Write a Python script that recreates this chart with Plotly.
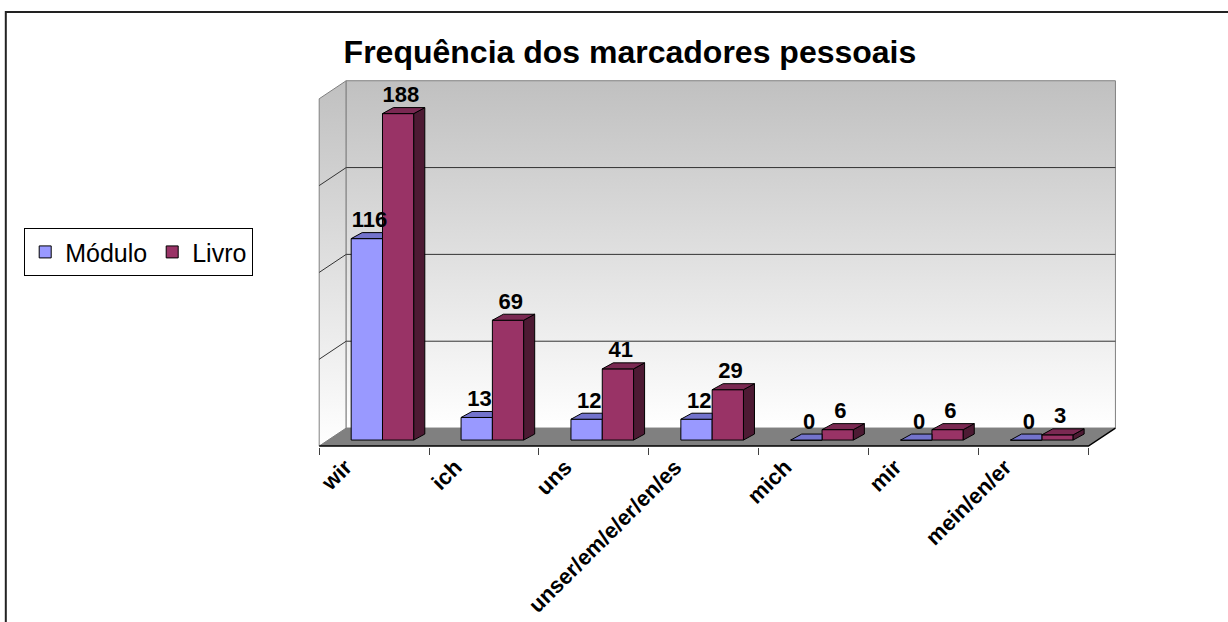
import plotly.graph_objects as go

# ---------------- data ----------------
categories = ["wir", "ich", "uns", "unser/em/e/er/en/es", "mich", "mir", "mein/en/er"]
modulo = [116, 13, 12, 12, 0, 0, 0]
livro = [188, 69, 41, 29, 6, 6, 3]
series_names = ["Módulo", "Livro"]
axis_max = 200
grid_step = 50

# ---------------- styling / geometry (data units) ----------------
FONT = "Arial, Liberation Sans, sans-serif"
C_MOD, C_MOD_TOP = "#9999FF", "#7373CC"
C_LIV, C_LIV_TOP, C_LIV_SIDE = "#993366", "#7A2952", "#4D1A33"
BAR_W = 0.285
OFF_M = -0.209
OFF_L = 0.076
BAR_DX = 0.10      # 3-D extrusion of bars
BAR_DY = 3.46
WALL_DX = 0.2457   # depth of chart floor
FRONT_Y = -3.46
BACK_Y = FRONT_Y + 10.38
n = len(categories)
idx = list(range(n))
LEFT_X = -0.5
RIGHT_X = n - 0.5
XR = [-0.52, 6.76]
YR = [-4.0, 208.5]
LABEL_SHIFT = -0.26

fig = go.Figure()

# ---- walls, gridlines and floor (base subplot, underneath) ----
grad = dict(type="vertical", colorscale=[[0, "#ffffff"], [1, "#c0c0c0"]])
fig.add_trace(go.Scatter(
    x=[LEFT_X, LEFT_X + WALL_DX, LEFT_X + WALL_DX, LEFT_X, LEFT_X],
    y=[FRONT_Y, BACK_Y, BACK_Y + axis_max, FRONT_Y + axis_max, FRONT_Y],
    fill="toself", fillgradient=grad, mode="lines",
    line=dict(color="#808080", width=1), showlegend=False, hoverinfo="skip"))
fig.add_trace(go.Scatter(
    x=[LEFT_X + WALL_DX, RIGHT_X + WALL_DX, RIGHT_X + WALL_DX, LEFT_X + WALL_DX, LEFT_X + WALL_DX],
    y=[BACK_Y, BACK_Y, BACK_Y + axis_max, BACK_Y + axis_max, BACK_Y],
    fill="toself", fillgradient=grad, mode="lines",
    line=dict(color="#808080", width=1), showlegend=False, hoverinfo="skip"))
gx, gy = [], []
for v in range(grid_step, axis_max, grid_step):
    gx += [LEFT_X, LEFT_X + WALL_DX, RIGHT_X + WALL_DX, None]
    gy += [FRONT_Y + v, BACK_Y + v, BACK_Y + v, None]
fig.add_trace(go.Scatter(x=gx, y=gy, mode="lines", line=dict(color="#333333", width=1),
                         showlegend=False, hoverinfo="skip"))
fig.add_trace(go.Scatter(
    x=[LEFT_X, RIGHT_X, RIGHT_X + WALL_DX, LEFT_X + WALL_DX, LEFT_X],
    y=[FRONT_Y, FRONT_Y, BACK_Y, BACK_Y, FRONT_Y],
    fill="toself", fillcolor="#808080", mode="lines", line=dict(width=0),
    showlegend=False, hoverinfo="skip"))
fig.add_trace(go.Scatter(
    x=[LEFT_X, RIGHT_X, RIGHT_X + WALL_DX],
    y=[FRONT_Y, FRONT_Y, BACK_Y],
    mode="lines", line=dict(color="#000000", width=1.5),
    showlegend=False, hoverinfo="skip"))

# ---- bars (overlay subplot, on top of walls) ----
fig.add_trace(go.Bar(x=idx, y=modulo, width=BAR_W, offset=OFF_M, name=series_names[0],
                     marker=dict(color=C_MOD, line=dict(color="#000000", width=1)),
                     xaxis="x2", yaxis="y2", hoverinfo="skip"))
fig.add_trace(go.Bar(x=idx, y=livro, width=BAR_W, offset=OFF_L, name=series_names[1],
                     marker=dict(color=C_LIV, line=dict(color="#000000", width=1)),
                     xaxis="x2", yaxis="y2", hoverinfo="skip"))

# 3-D faces computed from the values
mtx, mty, msx, msy = [], [], [], []
for i, (m, l) in enumerate(zip(modulo, livro)):
    x0 = i + OFF_M
    x1 = x0 + BAR_W
    if l >= m:
        mtx += [x0, x1, x1, x0 + BAR_DX, x0, None]
        mty += [m, m, m + BAR_DY, m + BAR_DY, m, None]
    else:
        mtx += [x0, x1, x1 + BAR_DX, x0 + BAR_DX, x0, None]
        mty += [m, m, m + BAR_DY, m + BAR_DY, m, None]
        msx += [x1, x1, x1 + BAR_DX, x1 + BAR_DX, x1, None]
        msy += [l, m, m + BAR_DY, l + BAR_DY, l, None]
fig.add_trace(go.Scatter(x=mtx, y=mty, fill="toself", fillcolor=C_MOD_TOP, mode="lines",
                         line=dict(color="#000000", width=1), xaxis="x2", yaxis="y2",
                         showlegend=False, hoverinfo="skip"))
if msx:
    fig.add_trace(go.Scatter(x=msx, y=msy, fill="toself", fillcolor=C_MOD_TOP, mode="lines",
                             line=dict(color="#000000", width=1), xaxis="x2", yaxis="y2",
                             showlegend=False, hoverinfo="skip"))
lsx, lsy, ltx, lty = [], [], [], []
for i, l in enumerate(livro):
    x0 = i + OFF_L
    x1 = x0 + BAR_W
    lsx += [x1, x1, x1 + BAR_DX, x1 + BAR_DX, x1, None]
    lsy += [0, l, l + BAR_DY, BAR_DY, 0, None]
    ltx += [x0, x1, x1 + BAR_DX, x0 + BAR_DX, x0, None]
    lty += [l, l, l + BAR_DY, l + BAR_DY, l, None]
fig.add_trace(go.Scatter(x=lsx, y=lsy, fill="toself", fillcolor=C_LIV_SIDE, mode="lines",
                         line=dict(color="#000000", width=1), xaxis="x2", yaxis="y2",
                         showlegend=False, hoverinfo="skip"))
fig.add_trace(go.Scatter(x=ltx, y=lty, fill="toself", fillcolor=C_LIV_TOP, mode="lines",
                         line=dict(color="#000000", width=1), xaxis="x2", yaxis="y2",
                         showlegend=False, hoverinfo="skip"))

# value labels
lab_font = dict(family=FONT, size=22, color="#000000", weight="bold")
fig.add_trace(go.Scatter(x=[i + OFF_M + BAR_W / 2 + BAR_DX * 0.25 for i in idx],
                         y=[m + BAR_DY for m in modulo], text=[str(v) for v in modulo],
                         mode="text", textposition="top center", textfont=lab_font,
                         xaxis="x2", yaxis="y2", showlegend=False, hoverinfo="skip",
                         cliponaxis=False))
fig.add_trace(go.Scatter(x=[i + OFF_L + BAR_W / 2 + BAR_DX * 0.25 for i in idx],
                         y=[l + BAR_DY for l in livro], text=[str(v) for v in livro],
                         mode="text", textposition="top center", textfont=lab_font,
                         xaxis="x2", yaxis="y2", showlegend=False, hoverinfo="skip",
                         cliponaxis=False))

fig.update_layout(
    width=1228, height=622,
    margin=dict(l=317, r=111, t=78, b=175, autoexpand=False),
    paper_bgcolor="#ffffff", plot_bgcolor="rgba(0,0,0,0)",
    barmode="overlay",
    title=dict(text="Frequência dos marcadores pessoais", x=0.513, y=0.916,
               xanchor="center", yanchor="middle",
               font=dict(family=FONT, size=32, color="#000000", weight="bold")),
    xaxis=dict(range=XR, tickvals=[i + LABEL_SHIFT for i in idx], ticktext=categories,
               tickangle=-45, ticks="", showgrid=False, zeroline=False, showline=False,
               ticklabelstandoff=2,
               tickfont=dict(family=FONT, size=22, color="#000000", weight="bold"),
               fixedrange=True),
    yaxis=dict(range=YR, visible=False, fixedrange=True),
    xaxis2=dict(range=XR, overlaying="x", anchor="y2", side="bottom",
                tickvals=[i - 0.5 for i in range(n + 1)], ticks="outside", ticklen=7,
                tickcolor="#404040", showticklabels=False, showgrid=False,
                zeroline=False, showline=False, fixedrange=True),
    yaxis2=dict(range=YR, overlaying="y", visible=False, fixedrange=True),
    legend=dict(orientation="h", x=-0.366, y=0.528, xanchor="left", yanchor="middle",
                bordercolor="#000000", borderwidth=1, bgcolor="#ffffff",
                font=dict(family=FONT, size=25, color="#000000")),
    showlegend=True,
    shapes=[dict(type="rect", xref="paper", yref="paper",
                 x0=-0.389, x1=1.2, y0=-0.6, y1=1.179,
                 line=dict(color="#222222", width=2), layer="above")],
)

fig.write_html("out.html", config={"displayModeBar": False},
               post_script="document.body.style.margin='0';document.body.style.overflow='hidden';")
